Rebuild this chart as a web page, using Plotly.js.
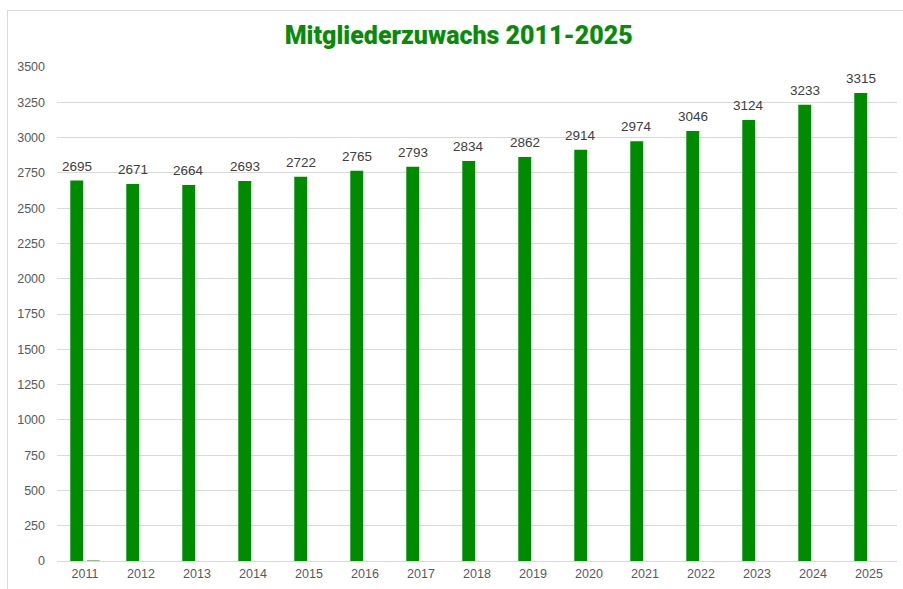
<!DOCTYPE html>
<html>
<head>
<meta charset="utf-8">
<script src="https://cdn.plot.ly/plotly-3.0.1.min.js"></script>
<style>
html,body{margin:0;padding:0;background:#fff;}
#wrap{position:relative;width:903px;height:589px;}
#chart{position:absolute;left:0;top:0;width:903px;height:589px;}
#frame{position:absolute;left:7px;top:10px;width:920px;height:620px;border:1px solid #d9d9d9;pointer-events:none;}
</style>
</head>
<body>
<div id="wrap"><div id="chart"></div><div id="frame"></div></div>
<script>
const years = ["2011","2012","2013","2014","2015","2016","2017","2018","2019","2020","2021","2022","2023","2024","2025"];
const members = [2695,2671,2664,2693,2722,2765,2793,2834,2862,2914,2974,3046,3124,3233,3315];
const secondSeries = [6,0,0,0,0,0,0,0,0,0,0,0,0,0,0];
const yTicks = [0,250,500,750,1000,1250,1500,1750,2000,2250,2500,2750,3000,3250,3500];

const traces = [
  {
    type: "bar", x: years, y: members,
    marker: {color: "#008a00"},
    hoverinfo: "x+y"
  },
  {
    type: "bar", x: years, y: secondSeries,
    marker: {color: "#7fae7f"},
    hoverinfo: "skip"
  }
];

const labelAnnotations = years.map((yr, i) => ({
  x: i, y: members[i], xref: "x", yref: "y",
  text: String(members[i]), showarrow: false,
  xanchor: "center", yanchor: "bottom", xshift: -8.3, yshift: 5,
  font: {family: "Liberation Sans, Arial, sans-serif", size: 13.5, color: "#404040"}
}));

const layout = {
  width: 903, height: 589,
  margin: {l: 57, r: 6, t: 67, b: 28},
  paper_bgcolor: "rgba(0,0,0,0)", plot_bgcolor: "#fff",
  showlegend: false,
  barmode: "group", bargap: 0.41, bargroupgap: 0.22,
  title: {
    text: "Mitgliederzuwachs 2011-2025",
    x: 0.508, xanchor: "center", y: 0.94, yanchor: "middle",
    font: {family: "Roboto, Arial, sans-serif", size: 25, color: "#0a8a0a", weight: 900}
  },
  xaxis: {
    type: "category", range: [-0.5, years.length - 0.5], autorange: false,
    tickfont: {family: "Liberation Sans, Arial, sans-serif", size: 12.5, color: "#595959"},
    showgrid: false, zeroline: false, showline: false, ticks: "",
    ticklabelstandoff: 3
  },
  yaxis: {
    range: [0, 3500], autorange: false, tickvals: yTicks, ticktext: yTicks.map(String),
    tickfont: {family: "Liberation Sans, Arial, sans-serif", size: 12.5, color: "#595959"},
    showgrid: true, gridcolor: "#d9d9d9", gridwidth: 1,
    zeroline: true, zerolinecolor: "#d9d9d9", zerolinewidth: 1,
    showline: false, ticks: "", ticklabelstandoff: 11
  },
  annotations: labelAnnotations,
  font: {family: "Liberation Sans, Arial, sans-serif"}
};

Plotly.newPlot("chart", traces, layout, {displayModeBar: false, staticPlot: true});
</script>
</body>
</html>
